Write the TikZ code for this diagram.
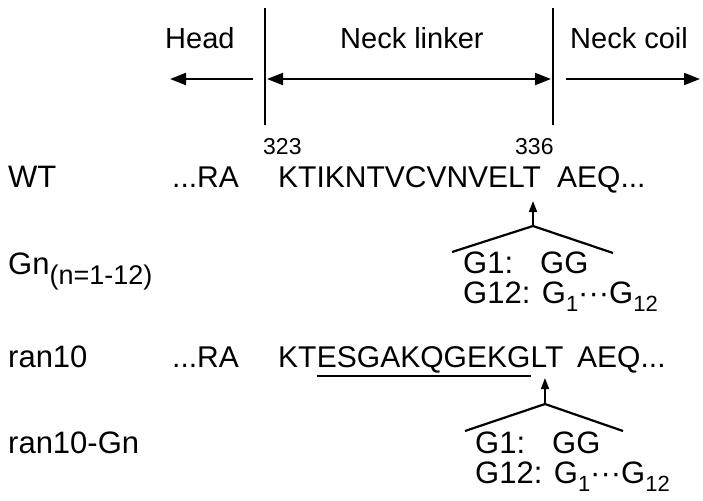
\documentclass[tikz,border=0pt]{standalone}
\usepackage{fontspec}
\setmainfont{Liberation Sans}
\usetikzlibrary{arrows.meta}
\newcommand{\sbs}[1]{\raisebox{-8pt}{\fontsize{22}{22}\selectfont #1}}
\newcommand{\sbg}[1]{\raisebox{-10pt}{\fontsize{27}{27}\selectfont #1}}
\begin{document}
\begin{tikzpicture}[x=1pt,y=-1pt,
  hdr/.style={inner sep=0pt, anchor=base west, font=\fontsize{29}{29}\selectfont},
  lbl/.style={inner sep=0pt, anchor=base west, font=\fontsize{31}{31}\selectfont},
  seq/.style={inner sep=0pt, anchor=base west, font=\fontsize{30}{30}\selectfont},
  num/.style={inner sep=0pt, anchor=base west, font=\fontsize{23}{23}\selectfont},
  arr/.style={line width=2pt, -{Triangle[length=16pt,width=12pt]}},
  darr/.style={line width=2pt, {Triangle[length=16pt,width=12pt]}-{Triangle[length=16pt,width=12pt]}},
  ins/.style={line width=1.6pt, -{Triangle[length=11pt,width=8pt]}},
  bar/.style={line width=1.5pt},
  chev/.style={line width=2.2pt}]
\useasboundingbox (0,0) rectangle (703,500);
% domain bars
\coordinate (l1t) at (265,8);
\coordinate (l1b) at (265,125);
\coordinate (l2t) at (553,8);
\coordinate (l2b) at (553,125);
\draw[bar] (l1t) -- (l1b);
\draw[bar] (l2t) -- (l2b);
\coordinate (ha) at (253,79);
\coordinate (hb) at (170,79);
\coordinate (na) at (267,79);
\coordinate (nb) at (551,79);
\coordinate (ca) at (566,79);
\coordinate (cb) at (700,79);
\draw[arr] (ha) -- (hb);
\draw[darr] (na) -- (nb);
\draw[arr] (ca) -- (cb);
\node[hdr] (head) at (165,49) {Head};
\node[hdr] (nl) at (340,49) {Neck linker};
\node[hdr] (nc) at (570,49) {Neck coil};
% WT
\node[num] (n323) at (263,154) {323};
\node[num] (n336) at (515,154) {336};
\node[lbl] (wt) at (8,187) {WT};
\node[seq] (wtra) at (172,187) {...RA};
\node[seq] (wtseq) at (278,187) {KTIKNTVCVNVELT};
\node[seq] (wtaeq) at (557,187) {AEQ...};
\coordinate (wapex) at (533,226);
\coordinate (wtip) at (533,201);
\coordinate (wl) at (452,252);
\coordinate (wr) at (613,253);
\draw[ins] (wapex) -- (wtip);
\draw[chev] (wl) -- (wapex) -- (wr);
\node[lbl] (gn) at (8,274) {Gn\sbg{(n=1-12)}};
\node[lbl] (wg1) at (463,273) {G1:};
\node[lbl] (wgg) at (540,273) {GG};
\node[lbl] (wg12) at (463,303) {G12: G\sbs{1}···G\sbs{12}};
% ran10
\node[lbl] (rn) at (8,367) {ran10};
\node[seq] (rra) at (172,367) {...RA};
\node[seq] (rkt) at (278,367) {KT};
\node[seq] (rul) at (rkt.base east) {ESGAKQGEKG};
\node[seq] (rlt) at (rul.base east) {LT};
\node[seq] (raeq) at (577,367) {AEQ...};
\draw[bar] ([yshift=-3pt]rul.south west) -- ([yshift=-3pt]rul.south east);
\coordinate (rapex) at (545,404);
\coordinate (rtip) at (545,378);
\coordinate (rl) at (465,431);
\coordinate (rr) at (623,431);
\draw[ins] (rapex) -- (rtip);
\draw[chev] (rl) -- (rapex) -- (rr);
\node[lbl] (rgn) at (8,453) {ran10-Gn};
\node[lbl] (rg1) at (475,453) {G1:};
\node[lbl] (rgg) at (552,453) {GG};
\node[lbl] (rg12) at (475,483) {G12: G\sbs{1}···G\sbs{12}};
\end{tikzpicture}
\end{document}
